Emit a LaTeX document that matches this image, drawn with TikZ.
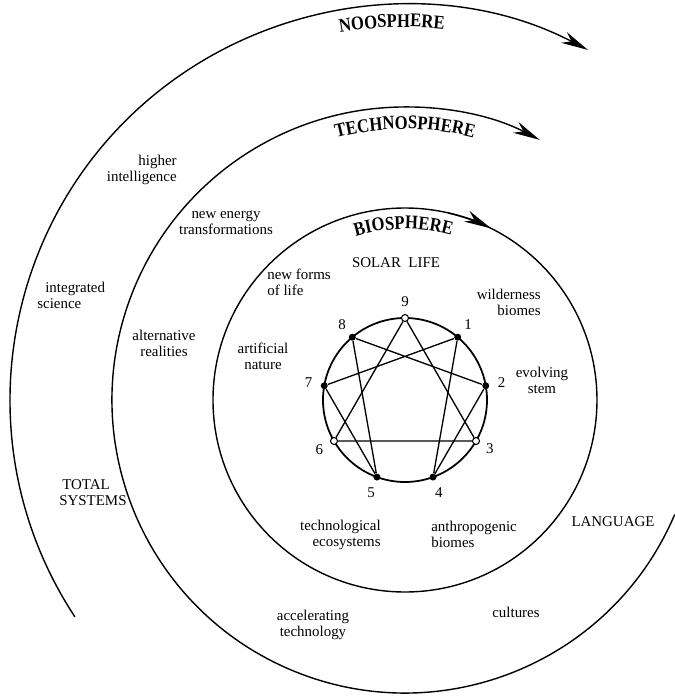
\documentclass[tikz,border=0pt]{standalone}
\usepackage{fontspec}
\setmainfont{Liberation Serif}
\newfontfamily\spherefont[FakeStretch=0.86]{Liberation Serif}
\usepackage{xcolor}
\usepackage{tikz}
\usetikzlibrary{arrows.meta,decorations.text}

\begin{document}
\begin{tikzpicture}[x=0.2mm, y=0.2mm,
      ring/.style={line width=0.8pt},
      flow/.style={ring, -{Stealth[length=5.4mm, width=2.4mm, inset=1.7mm]}},
      lbl/.style={font=\fontsize{8.5}{9.2}\selectfont, inner sep=0pt, align=center},
      num/.style={font=\fontsize{8.5}{9.2}\selectfont, inner sep=0pt},
      dotfull/.style={circle, fill=black, inner sep=0pt, minimum size=1.4mm},
      dotopen/.style={circle, draw, fill=white, line width=0.6pt, inner sep=0pt, minimum size=1.4mm},
      sphere/.style={decorate, decoration={text along path, text align=center,
                     text={|\fontsize{11}{12}\spherefont\bfseries|#1}}}
    ]
      \useasboundingbox (-405,-296) rectangle (270,400);

      % the three spheres
      \draw[flow] (213.3:395) arc[start angle=213.3, end angle=62.4, radius=395];
      \draw[flow] (-23:293) arc[start angle=-23, end angle=-297.4, radius=293];
      \draw[ring] (0,0) circle[radius=192];
      \draw[flow] (77:192) arc[start angle=77, end angle=63.4, radius=192];

      \path[sphere=NOOSPHERE] (114:373) arc[start angle=114, end angle=70, radius=373];
      \path[sphere=TECHNOSPHERE] (118:271) arc[start angle=118, end angle=62, radius=271];
      \path[sphere=BIOSPHERE] (124:171) arc[start angle=124, end angle=57, radius=171];

      % enneagram
      \draw[line width=1pt] (0,0) circle[radius=82];
      \node[dotopen] (p9) at (90:82) {};
      \node[dotfull] (p1) at (50:82) {};
      \node[dotfull] (p2) at (10:82) {};
      \node[dotopen] (p3) at (-30:82) {};
      \node[dotfull] (p4) at (-70:82) {};
      \node[dotfull] (p5) at (-110:82) {};
      \node[dotopen] (p6) at (-150:82) {};
      \node[dotfull] (p7) at (170:82) {};
      \node[dotfull] (p8) at (130:82) {};
      \draw[line width=0.75pt] (p1) -- (p4) -- (p2) -- (p8) -- (p5) -- (p7) -- (p1);
      \draw[line width=0.75pt] (p9) -- (p3) -- (p6) -- (p9);

      \node[num] (n9) at (90:98) {9};
      \node[num] (n1) at (50:98) {1};
      \node[num] (n2) at (10:98) {2};
      \node[num] (n3) at (-30:98) {3};
      \node[num] (n4) at (-70:99) {4};
      \node[num] (n5) at (-110:99) {5};
      \node[num] (n6) at (-150:99) {6};
      \node[num] (n7) at (170:98) {7};
      \node[num] (n8) at (130:98) {8};

      % texts
      \node[lbl] (sl) at (-9,137) {SOLAR\ \ LIFE};
      \node[lbl, anchor=east, align=right] (wb) at (136,98) {wilderness\\biomes};
      \node[lbl] (es) at (137,20) {evolving\\stem};
      \node[lbl, anchor=west, align=left] (nf) at (-138,118) {new forms\\of life};
      \node[lbl] (an) at (-142,44) {artificial\\nature};
      \node[lbl, anchor=east, align=right] (te) at (-24,-135) {technological\\ecosystems};
      \node[lbl, anchor=west, align=left] (ab) at (26,-134) {anthropogenic\\biomes};

      \node[lbl] (ne) at (-179,177) {new energy\\transformations};
      \node[lbl] (ar) at (-241,57) {alternative\\realities};
      \node[lbl] (acc) at (-92,-225) {accelerating\\technology};
      \node[lbl] (cu) at (111,-212) {cultures};
      \node[lbl] (lg) at (208,-122) {LANGUAGE};

      \node[lbl, anchor=east, align=right] (hi) at (-228,230) {higher\\intelligence};
      \node[lbl, anchor=west, align=left] (is) at (-368,105) {\hspace*{1.6mm}integrated\\science};
      \node[lbl, anchor=west, align=left] (ts) at (-346,-93) {\hspace*{0.6mm}TOTAL\\SYSTEMS};
    \end{tikzpicture}
\end{document}
